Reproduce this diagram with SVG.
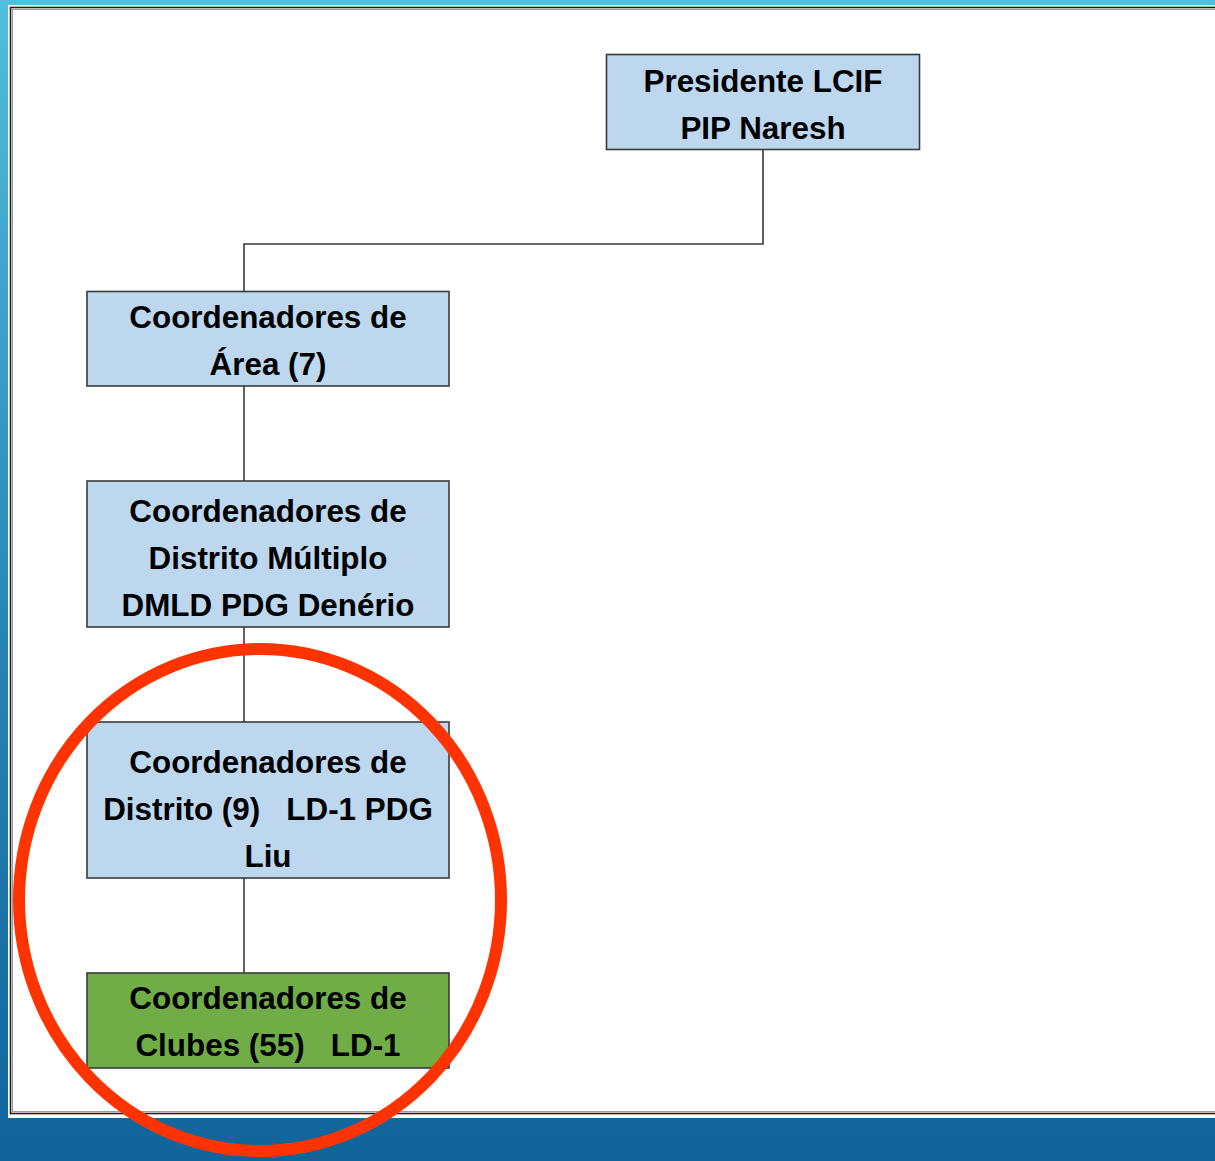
<svg xmlns="http://www.w3.org/2000/svg" width="1215" height="1161" viewBox="0 0 1215 1161">
<style>
.box{stroke:#3a3a3a;stroke-width:1.6}
.blue{fill:#BDD7EE}
.green{fill:#70AD47}
.t{font-family:"Liberation Sans",Arial,sans-serif;font-weight:bold;font-size:31.4px;fill:#000;text-anchor:middle}
.conn{fill:none;stroke:#3a3a3a;stroke-width:1.6}
</style>
<defs>
<linearGradient id="bg" x1="0" y1="0" x2="0" y2="1">
<stop offset="0" stop-color="#52BEDD"/>
<stop offset="0.55" stop-color="#2785B5"/>
<stop offset="1" stop-color="#11649A"/>
</linearGradient>
</defs>
<rect x="0" y="0" width="1215" height="1161" fill="url(#bg)"/>
<rect x="8" y="5" width="1220" height="1113" fill="#fff"/>
<rect x="10.5" y="7.5" width="1220" height="1106" fill="none" stroke="#1e1e1e" stroke-width="1.6"/>
<rect x="12.5" y="9.5" width="1220" height="1102" fill="none" stroke="#9a9a9a" stroke-width="1"/>
<g id="connectors">
<path class="conn" d="M763 150 V244 H244 V291"/>
<path class="conn" d="M244 386 V481"/>
<path class="conn" d="M244 627 V722"/>
<path class="conn" d="M244 878 V973"/>
</g>
<g id="n-presidente">
<rect class="box blue" x="606.5" y="54.5" width="313" height="95"/>
<text class="t" x="763" y="92">Presidente LCIF</text>
<text class="t" x="763" y="139">PIP Naresh</text>
</g>
<g id="n-area">
<rect class="box blue" x="87" y="291.5" width="362" height="94.5"/>
<text class="t" x="268" y="328">Coordenadores de</text>
<text class="t" x="268" y="375">Área (7)</text>
</g>
<g id="n-dm">
<rect class="box blue" x="87" y="481" width="362" height="146"/>
<text class="t" x="268" y="522">Coordenadores de</text>
<text class="t" x="268" y="569">Distrito Múltiplo</text>
<text class="t" x="268" y="616">DMLD PDG Denério</text>
</g>
<g id="n-distrito">
<rect class="box blue" x="87" y="722" width="362" height="156"/>
<text class="t" x="268" y="773">Coordenadores de</text>
<text class="t" x="268" y="820" xml:space="preserve">Distrito (9)   LD-1 PDG</text>
<text class="t" x="268" y="867">Liu</text>
</g>
<g id="n-clubes">
<rect class="box green" x="87" y="973" width="362" height="95"/>
<text class="t" x="268" y="1009">Coordenadores de</text>
<text class="t" x="268" y="1056" xml:space="preserve">Clubes (55)   LD-1</text>
</g>
<ellipse id="highlight" cx="260" cy="900" rx="241" ry="251" fill="none" stroke="#FF3300" stroke-width="12"/>
</svg>
